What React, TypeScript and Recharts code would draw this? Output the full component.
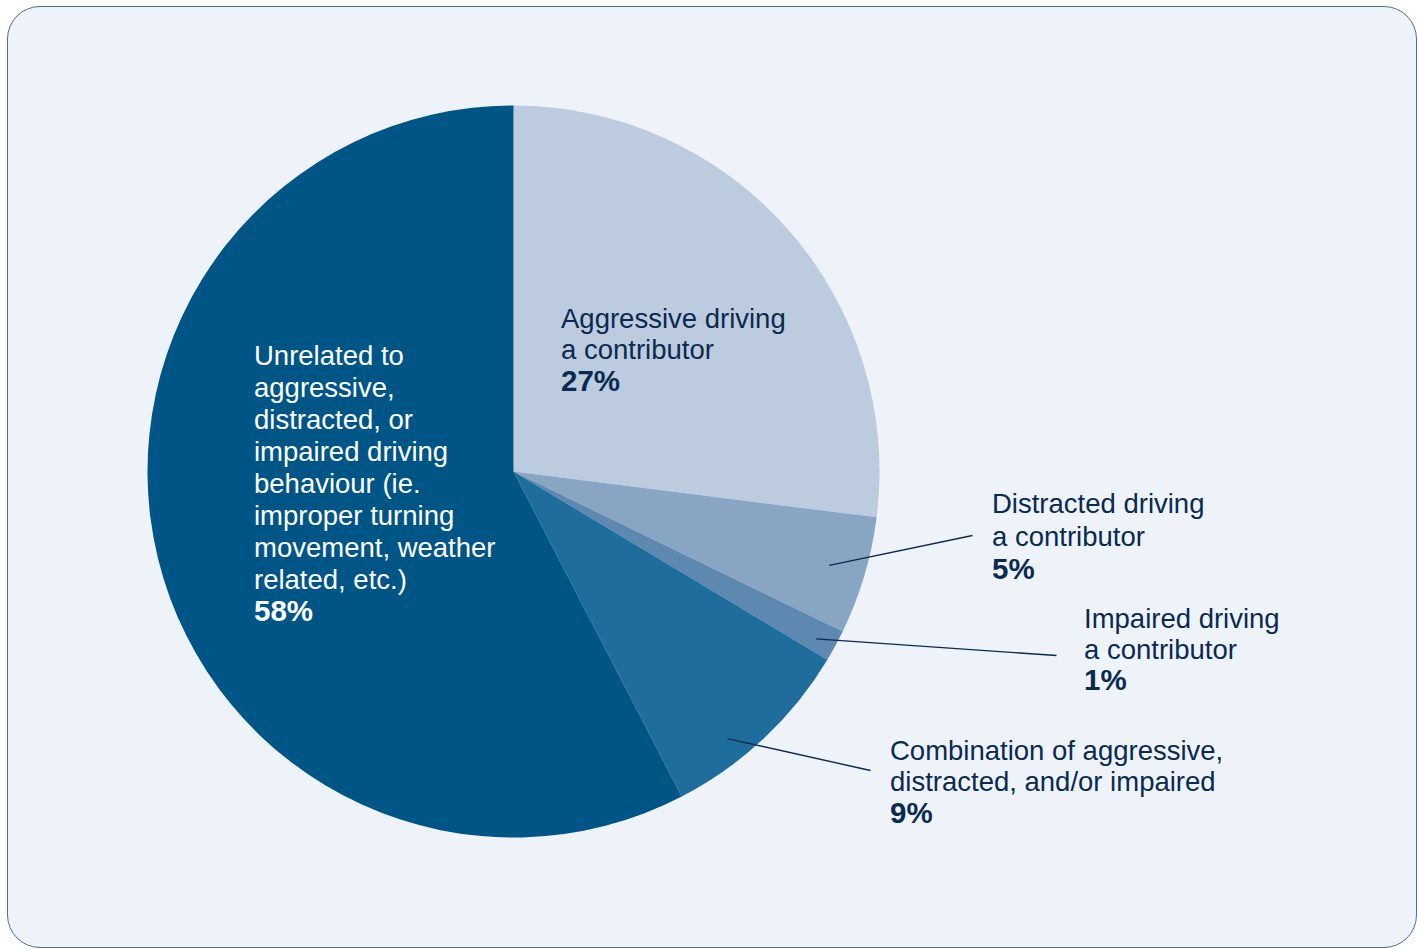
import React from 'react';
import { PieChart, Pie, Cell } from 'recharts';

const categories = [
  'Aggressive driving a contributor',
  'Distracted driving a contributor',
  'Impaired driving a contributor',
  'Combination of aggressive, distracted, and/or impaired',
  'Unrelated to aggressive, distracted, or impaired driving behaviour (ie. improper turning movement, weather related, etc.)',
];
const shares = [27, 5.2, 1.4, 8.8, 57.6];
const labelLines: string[][] = [
  ['Aggressive driving', 'a contributor'],
  ['Distracted driving', 'a contributor'],
  ['Impaired driving', 'a contributor'],
  ['Combination of aggressive,', 'distracted, and/or impaired'],
  ['Unrelated to', 'aggressive,', 'distracted, or', 'impaired driving', 'behaviour (ie.', 'improper turning', 'movement, weather', 'related, etc.)'],
];
const sliceColors = ['#BCCBDD', '#88A5C4', '#5D88B0', '#1F6D9D', '#005587'];

const data = categories.map((name, i) => ({ name, value: shares[i] }));

// layout: text anchor offset from pie centre, line spacing, text colour, optional leader line
const labelLayout = [
  { dx: 47.5, dy: -144, step: 31.5, color: '#0a2a50', leader: null },
  { dx: 478.5, dy: 41, step: 33, color: '#0a2a50', leader: { r: 0.9, ang: 0, ex: 459, ey: 64 } },
  { dx: 570.5, dy: 156, step: 31, color: '#0a2a50', leader: { r: 0.945, ang: -0.5, ex: 543, ey: 184 } },
  { dx: 376.5, dy: 288, step: 31.5, color: '#0a2a50', leader: { r: 0.935, ang: -4.5, ex: 357, ey: 299 } },
  { dx: -259.5, dy: -107, step: 32, color: '#ffffff', leader: null },
];

const RAD = Math.PI / 180;

const renderLabel = (props: any) => {
  const { cx, cy, midAngle, outerRadius, index, value } = props;
  const L = labelLayout[index];
  const lines = labelLines[index];
  const x = cx + L.dx;
  const y0 = cy + L.dy;
  let leader = null;
  if (L.leader) {
    const a = (midAngle + L.leader.ang) * RAD;
    const sx = cx + Math.cos(-a) * outerRadius * L.leader.r;
    const sy = cy + Math.sin(-a) * outerRadius * L.leader.r;
    leader = (
      <line x1={sx} y1={sy} x2={cx + L.leader.ex} y2={cy + L.leader.ey} stroke="#0a2a50" strokeWidth={1.4} />
    );
  }
  return (
    <g key={`lbl-${index}`}>
      {leader}
      <text x={x} y={y0} fill={L.color} fontFamily="'Liberation Sans', Arial, sans-serif" fontSize={27.5}>
        {lines.map((t, k) => (
          <tspan key={k} x={x} y={y0 + k * L.step}>{t}</tspan>
        ))}
        <tspan x={x} y={y0 + lines.length * L.step} fontWeight="bold" fontSize={29.5}>
          {Math.round(value)}%
        </tspan>
      </text>
    </g>
  );
};

export default function App() {
  return (
    <div style={{ position: 'absolute', left: 0, top: 0, width: 1417, height: 949, overflow: 'hidden', background: '#ffffff' }}>
      <div
        style={{
          position: 'absolute',
          left: 7,
          top: 6,
          width: 1410,
          height: 942,
          boxSizing: 'border-box',
          border: '1.5px solid #4f6f92',
          borderRadius: 33,
          background: '#EEF3FA',
        }}
      />
      <div style={{ position: 'absolute', left: 0, top: 0 }}>
        <PieChart width={1417} height={949} margin={{ top: 0, right: 0, bottom: 0, left: 0 }}>
          <Pie
            data={data}
            dataKey="value"
            nameKey="name"
            cx={513.5}
            cy={471.5}
            outerRadius={366}
            startAngle={90}
            endAngle={-270}
            stroke="none"
            isAnimationActive={false}
            labelLine={false}
            label={renderLabel}
          >
            {data.map((d, i) => (
              <Cell key={d.name} fill={sliceColors[i]} />
            ))}
          </Pie>
        </PieChart>
      </div>
    </div>
  );
}
